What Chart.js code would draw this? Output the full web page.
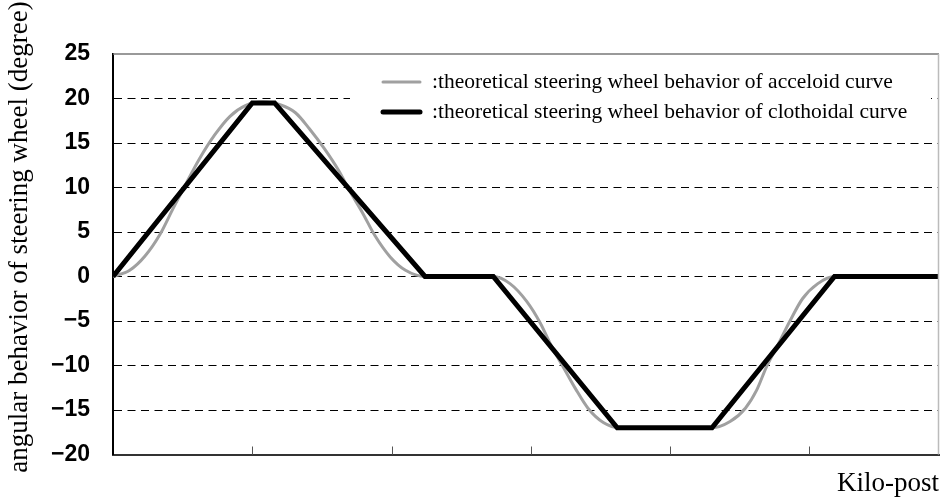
<!DOCTYPE html>
<html>
<head>
<meta charset="utf-8">
<script src="https://cdn.jsdelivr.net/npm/chart.js@4.4.1/dist/chart.umd.min.js"></script>
<style>
html, body { margin: 0; padding: 0; background: #fff; }
#wrap { width: 940px; height: 497px; position: relative; }
</style>
</head>
<body>
<div id="wrap"><canvas id="steer"></canvas></div>
<script>
// x in kilo-post units (one unit per tick mark), y = steering wheel angle in degrees
var accelX = [0, 0.12, 0.23, 0.34, 0.43, 0.52, 0.62, 0.73, 0.84, 0.95, 1.07, 1.20, 1.31, 1.41, 1.52, 1.62, 1.70, 1.79, 1.88, 1.99, 2.10, 2.24,
              2.73, 2.85, 2.97, 3.07, 3.15, 3.23, 3.32, 3.41, 3.52, 3.64, 4.30, 4.43, 4.54, 4.62, 4.69, 4.77, 4.86, 4.95, 5.06, 5.18, 5.93];
var accelY = [0, 0.7, 2.3, 4.8, 7.6, 10.3, 13.2, 15.9, 18.0, 19.2, 19.6, 19.3, 18.4, 16.6, 14.3, 11.9, 9.6, 7.2, 4.6, 2.2, 0.7, 0,
              0, -0.8, -2.8, -5.3, -7.9, -10.1, -12.6, -14.8, -16.4, -17.0, -17.0, -16.3, -14.8, -12.8, -10.2, -7.8, -5.0, -2.5, -0.8, 0, 0];
var clothX = [0, 1.00, 1.16, 2.24, 2.73, 3.62, 4.30, 5.18, 5.93];
var clothY = [0, 19.5, 19.5, 0, 0, -17, -17, 0, 0];
var yMin = -20, yMax = 25, yStep = 5;
var xMax = 5.93;
var seriesNames = [':theoretical steering wheel behavior of acceloid curve',
                   ':theoretical steering wheel behavior of clothoidal curve'];
var xTitle = 'Kilo-post';
var yTitle = 'angular behavior of steering wheel (degree)';

function toPoints(xs, ys) {
    return xs.map(function(x, i) { return {x: x, y: ys[i]}; });
}

// frame lines, inward x tick marks, y title and the boxed legend inside the plot
var framePlugin = {
    id: 'frame',
    afterDatasetsDraw: function(chart) {
        var ctx = chart.ctx, a = chart.chartArea, xs = chart.scales.x;
        ctx.save();
        ctx.lineWidth = 1.5;
        ctx.strokeStyle = '#777';
        ctx.beginPath();
        ctx.moveTo(a.left, a.top); ctx.lineTo(a.right, a.top);
        ctx.stroke();
        ctx.strokeStyle = '#bbb';
        ctx.beginPath();
        ctx.moveTo(a.right - 0.5, a.top); ctx.lineTo(a.right - 0.5, a.bottom);
        ctx.stroke();
        ctx.strokeStyle = '#555';
        ctx.lineWidth = 1;
        xs.ticks.forEach(function(t) {
            if (t.value <= 0 || t.value >= xMax) return;
            var px = Math.round(xs.getPixelForValue(t.value)) + 0.5;
            ctx.beginPath();
            ctx.moveTo(px, a.bottom); ctx.lineTo(px, a.bottom - 8);
            ctx.stroke();
        });

        // y title sits a little above the plot's centre, as in the source
        ctx.save();
        ctx.translate(20, 237);
        ctx.rotate(-Math.PI / 2);
        ctx.font = '27px "Liberation Serif"';
        ctx.fillStyle = '#000';
        ctx.textAlign = 'center';
        ctx.textBaseline = 'middle';
        ctx.fillText(yTitle, 0, 0);
        ctx.restore();

        var bx = a.left + 237, by = a.top + 12;
        ctx.fillStyle = '#fff';
        ctx.fillRect(bx, by, a.right - 8 - bx, 60);
        ctx.font = '21.5px "Liberation Serif"';
        ctx.textBaseline = 'middle';
        ctx.lineCap = 'round';
        var sets = chart.data.datasets.slice().sort(function(p, q) { return q.order - p.order; });
        sets.forEach(function(ds, i) {
            var ly = by + 16 + i * 30;
            ctx.strokeStyle = ds.borderColor;
            ctx.lineWidth = ds.borderWidth;
            ctx.beginPath();
            ctx.moveTo(bx + 33, ly); ctx.lineTo(bx + 70, ly);
            ctx.stroke();
            ctx.fillStyle = '#000';
            ctx.fillText(ds.label, bx + 82, ly);
        });
        ctx.restore();
    }
};

new Chart(document.getElementById('steer').getContext('2d'), {
    type: 'line',
    data: {
        datasets: [{
            label: seriesNames[0],
            data: toPoints(accelX, accelY),
            borderColor: '#a0a0a0',
            borderWidth: 3,
            pointRadius: 0,
            cubicInterpolationMode: 'monotone',
            order: 2
        }, {
            label: seriesNames[1],
            data: toPoints(clothX, clothY),
            borderColor: '#000',
            borderWidth: 5,
            pointRadius: 0,
            tension: 0,
            borderJoinStyle: 'miter',
            order: 1
        }]
    },
    options: {
        responsive: true,
        maintainAspectRatio: false,
        animation: false,
        layout: { padding: { top: 54, right: 1, left: 0, bottom: 0 } },
        plugins: { legend: { display: false }, tooltip: { enabled: false } },
        scales: {
            x: {
                type: 'linear',
                min: 0,
                max: xMax,
                ticks: { display: false, stepSize: 1 },
                grid: { display: false },
                border: { display: true, color: '#333', width: 2 },
                title: {
                    display: true, text: xTitle, align: 'end', color: '#000',
                    font: { family: 'Liberation Serif', size: 27, lineHeight: 1 },
                    padding: { top: 0, bottom: 0 }
                },
                afterFit: function(s) { s.height = 42.5; }
            },
            y: {
                min: yMin,
                max: yMax,
                ticks: {
                    stepSize: yStep, padding: 23, color: '#000',
                    font: { family: 'Liberation Sans', size: 23, weight: 'bold' },
                    callback: function(v) { return v < 0 ? '\u2212' + Math.abs(v) : '' + v; }
                },
                grid: {
                    drawTicks: false,
                    lineWidth: 1,
                    color: function(c) {
                        var v = c.tick && c.tick.value;
                        return (v === yMin || v === yMax) ? 'rgba(0,0,0,0)' : '#000';
                    }
                },
                border: { display: true, color: '#000', width: 2, dash: [8, 5.5] },
                title: { display: false },
                afterFit: function(s) { s.width = 113; }
            }
        }
    },
    plugins: [framePlugin]
});
</script>
</body>
</html>
